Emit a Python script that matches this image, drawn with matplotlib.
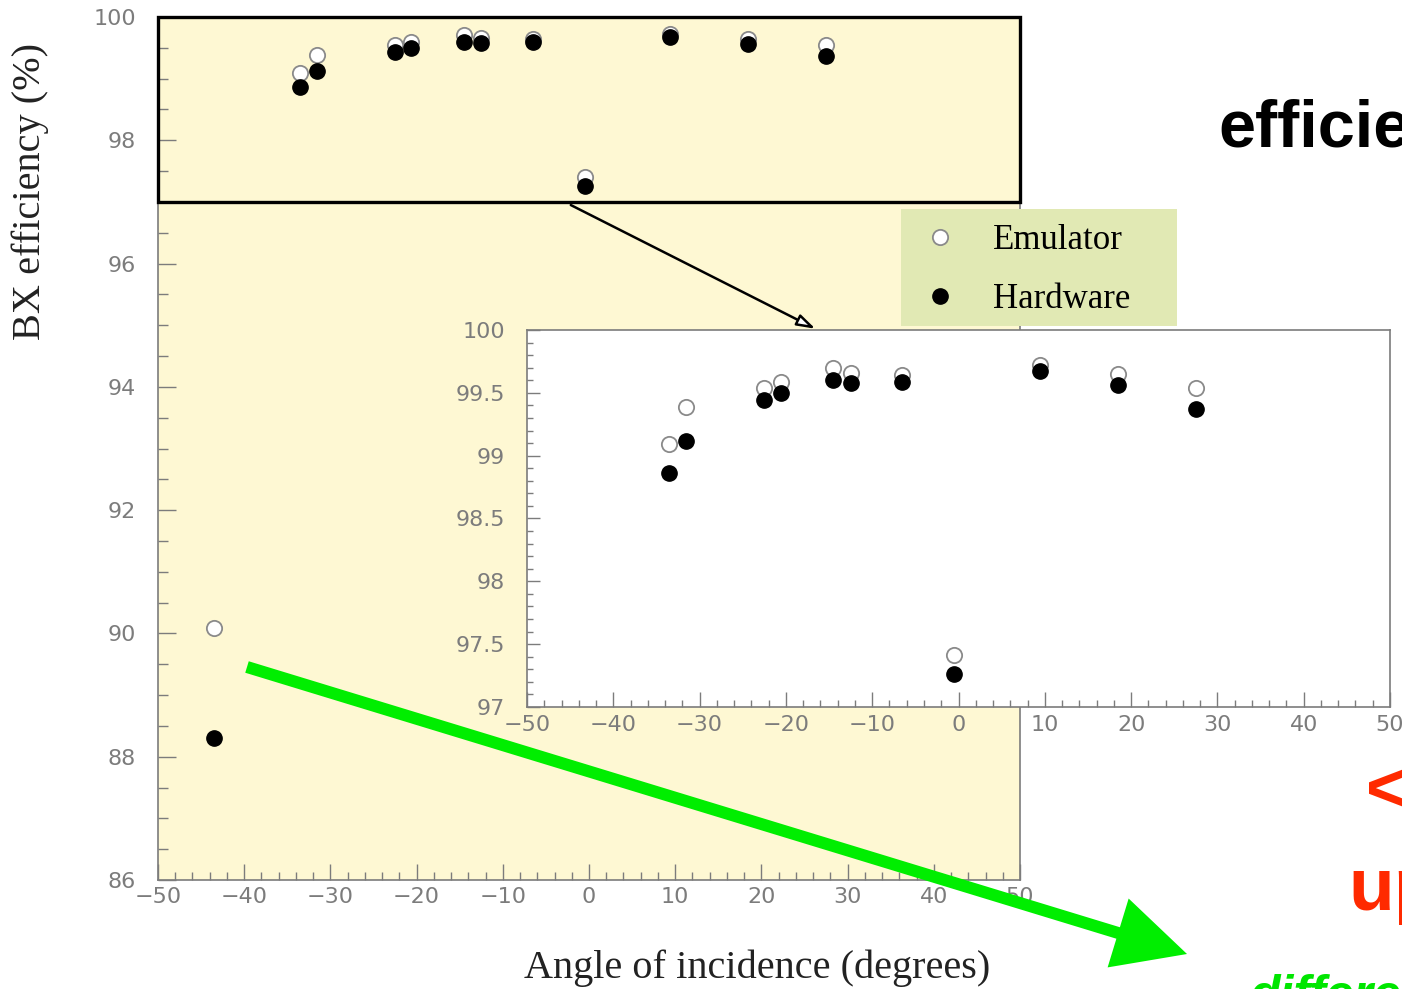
import numpy as np
import matplotlib
matplotlib.use("Agg")
import matplotlib.pyplot as plt
from matplotlib.patches import Rectangle, FancyArrow
from matplotlib.ticker import MultipleLocator, FormatStrFormatter
from matplotlib.lines import Line2D

# angle of incidence (degrees) and BX efficiency (%)
angle = [-43.5, -33.5, -31.6, -22.5, -20.6, -14.5, -12.5, -6.5, -0.5, 9.4, 18.5, 27.5]
emulator = [90.08, 99.09, 99.39, 99.54, 99.59, 99.70, 99.66, 99.64, 97.41, 99.72, 99.65, 99.54]
hardware = [88.31, 98.86, 99.12, 99.44, 99.50, 99.60, 99.58, 99.59, 97.26, 99.67, 99.56, 99.37]

labels = ["Emulator", "Hardware"]
xlabel = "Angle of incidence (degrees)"
ylabel = "BX efficiency (%)"

W, H = 1402, 989
gray = "#7c7c7c"
serif = "Liberation Serif"
sans = "Liberation Sans"

fig = plt.figure(figsize=(W / 100, H / 100), dpi=100)
fig.patch.set_facecolor("white")

ax = fig.add_axes([158 / W, 109 / H, 862 / W, 863 / H])
ins = fig.add_axes([527 / W, 282 / H, 863 / W, 377 / H])


def draw_points(a):
    a.plot(angle, emulator, "o", ms=11, mfc="white", mec="#8a8a8a", mew=1.3, zorder=3)
    a.plot(angle, hardware, "o", ms=11, mfc="black", mec="black", zorder=4)


def style_axis(a, ylo, yhi, ymaj, ymin, fmt, ytl, ytm, xtl, xtm, ypad, xpad):
    a.set_xlim(-50, 50)
    a.set_ylim(ylo, yhi)
    a.xaxis.set_major_locator(MultipleLocator(10))
    a.xaxis.set_minor_locator(MultipleLocator(2))
    a.yaxis.set_major_locator(MultipleLocator(ymaj))
    a.yaxis.set_minor_locator(MultipleLocator(ymin))
    a.yaxis.set_major_formatter(FormatStrFormatter(fmt))
    a.tick_params(axis="y", which="major", direction="in", length=ytl, width=1,
                  color=gray, labelcolor=gray, labelsize=16, pad=ypad)
    a.tick_params(axis="y", which="minor", direction="in", length=ytm, width=1, color=gray)
    a.tick_params(axis="x", which="major", direction="in", length=xtl, width=1,
                  color=gray, labelcolor=gray, labelsize=16, pad=xpad)
    a.tick_params(axis="x", which="minor", direction="in", length=xtm, width=1, color=gray)
    for s in a.spines.values():
        s.set_color(gray)
        s.set_linewidth(1.2)
    for t in a.get_xticklabels() + a.get_yticklabels():
        t.set_family("DejaVu Sans")


# main plot
ax.set_facecolor("#fef8d3")
draw_points(ax)
style_axis(ax, 86, 100, 2, 0.5, "%g", 13, 7, 11.5, 6, 16, 5)
ax.add_patch(Rectangle((-50, 97), 100, 3, fill=False, ec="black", lw=2.4,
                       clip_on=False, zorder=5))

# zoomed inset
ins.set_facecolor("white")
draw_points(ins)
style_axis(ins, 97, 100, 0.5, 0.1, "%g", 9, 4.5, 11, 5, 16, 5.5)

# arrow from box to inset
ins.annotate("", xy=(-16.3, 100), xycoords="data",
             xytext=(-2.4, 96.97), textcoords=ax.transData,
             arrowprops=dict(arrowstyle="-|>,head_length=1.1,head_width=0.35",
                             fc="white", ec="black", lw=1.8),
             annotation_clip=False)

# legend
fig.add_artist(Rectangle((901 / 100, (H - 326) / 100), 276 / 100, 117 / 100,
                         transform=fig.dpi_scale_trans, fc="#e1e9b4", ec="none", zorder=2))
handles = [Line2D([], [], ls="none", marker="o", ms=11, mfc="white", mec="#8a8a8a", mew=1.3),
           Line2D([], [], ls="none", marker="o", ms=11, mfc="black", mec="black")]
leg = fig.legend(handles, labels, loc="upper left", bbox_to_anchor=(901 / W, 1 - 209 / H),
                 frameon=False, prop={"family": serif, "size": 25}, borderaxespad=0,
                 borderpad=0.43, labelspacing=0.75, handlelength=1.38, handletextpad=0.83)
leg.set_zorder(3)

# axis titles
fig.text(30 / W, 1 - 192 / H, ylabel, rotation=90, ha="center", va="center",
         family=serif, size=29, color="#222222")
fig.text(757 / W, 1 - 968 / H, xlabel, ha="center", va="center",
         family=serif, size=29, color="#222222")

# slide text cut by the right edge
fig.text(1218 / W, 1 - 147 / H, "efficiency", ha="left", va="baseline",
         family=sans, weight="bold", size=48, color="black")
fig.text(1366 / W, 1 - 812 / H, "<", ha="left", va="baseline",
         family=sans, weight="bold", size=52, color="#ff2a00")
fig.text(1348 / W, 1 - 910 / H, "up", ha="left", va="baseline",
         family=sans, weight="bold", size=54, color="#ff2a00")
fig.text(1250 / W, 1 - 1010 / H, "difference", ha="left", va="baseline",
         family=sans, weight="bold", style="italic", size=36, color="#00e600")

# big green arrow
fig.add_artist(FancyArrow(2.47, (H - 667) / 100, 9.40, -2.87, width=0.12,
                          head_width=0.72, head_length=0.72, length_includes_head=True,
                          transform=fig.dpi_scale_trans, fc="#00ee00", ec="none", zorder=6))

fig.savefig("out.png", dpi=100)
